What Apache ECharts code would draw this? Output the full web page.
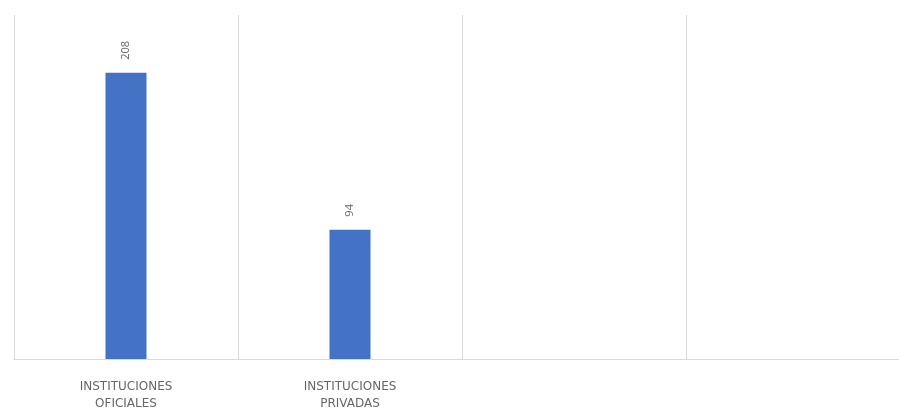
<!DOCTYPE html>
<html>
<head>
<meta charset="utf-8">
<script src="https://cdn.jsdelivr.net/npm/echarts@6/dist/echarts.min.js"></script>
<style>
  html, body { margin: 0; padding: 0; background: #fff; }
  #chart { width: 899px; height: 411px; }
</style>
</head>
<body>
<div id="chart"></div>
<script>
// datos
var categorias = ["INSTITUCIONES\nOFICIALES", "INSTITUCIONES\nPRIVADAS", "", ""];
var valores = [208, 94, "-", "-"];

var chart = echarts.init(document.getElementById("chart"));
chart.setOption({
  animation: false,
  grid: {
    left: 14,
    width: 896,
    top: 15,
    bottom: 52,
    outerBoundsMode: "none",
  },
  xAxis: {
    type: "category",
    data: categorias,
    axisLine: { lineStyle: { color: "#d9d9d9" } },
    axisTick: { show: false },
    splitLine: { show: true, lineStyle: { color: "#d9d9d9" } },
    axisLabel: {
      interval: 0,
      color: "#666666",
      fontFamily: "DejaVu Sans",
      fontSize: 12,
      lineHeight: 17,
      margin: 19,
    },
  },
  yAxis: {
    type: "value",
    min: 0,
    max: 250,
    show: false,
  },
  series: [
    {
      type: "bar",
      data: valores,
      barWidth: 41,
      itemStyle: { color: "#4472c4" },
      label: {
        show: true,
        position: "top",
        rotate: 90,
        align: "left",
        verticalAlign: "middle",
        distance: 13,
        color: "#666666",
        fontFamily: "Open Sans",
        fontSize: 11,
      },
    },
  ],
});
</script>
</body>
</html>
